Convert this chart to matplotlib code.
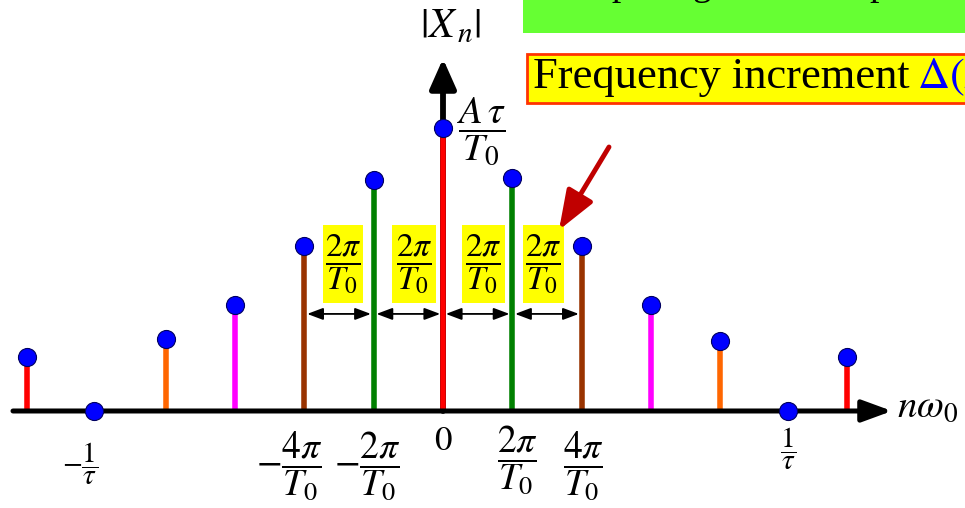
import matplotlib
matplotlib.use('Agg')
import matplotlib.pyplot as plt
from matplotlib.patches import Rectangle

plt.rcParams['mathtext.fontset'] = 'stix'
plt.rcParams['font.family'] = ['Liberation Serif', 'DejaVu Serif']

# line spectrum: harmonic positions (in units of w0) and magnitudes (peak = A*tau/T0)
positions = [-6, -5.03, -4, -3, -2, -1, 0, 1, 2, 3, 4, 4.98, 5.83]
magnitudes = [0.19, 0.0, 0.254, 0.375, 0.583, 0.816, 1.0, 0.823, 0.583, 0.375, 0.247, 0.0, 0.19]
stem_colors = ['#FF0000', '#FF0000', '#FF6600', '#FF00FF', '#993300', '#008000', '#FF0000',
               '#008000', '#993300', '#FF00FF', '#FF6600', '#FF0000', '#FF0000']

# spacing marks between neighbouring lines around the origin
spacing_idx = [4, 5, 6, 7, 8]
spacing_level = 0.343

fig = plt.figure(figsize=(9.65, 5.08), dpi=100)
ax = fig.add_axes([0, 0, 1, 1])
ax.set_xlim(-6.3925, 7.5325)
ax.set_ylim(-0.3428, 1.4523)
ax.axis('off')

# axes with arrows
ax.annotate('', xy=(0, 1.245), xytext=(0, 0),
            arrowprops=dict(arrowstyle='-|>,head_length=0.9,head_width=0.4', color='black',
                            lw=4.2, mutation_scale=20, shrinkA=0, shrinkB=0), zorder=1)
ax.vlines(positions, 0, magnitudes, colors=stem_colors, lw=4, zorder=2)
ax.annotate('', xy=(6.479, 0), xytext=(-6.205, 0),
            arrowprops=dict(arrowstyle='-|>,head_length=0.9,head_width=0.33', color='black',
                            lw=3.6, mutation_scale=20, shrinkA=0, shrinkB=0), zorder=3)
ax.plot(positions, magnitudes, 'o', ms=13, mfc='#0000FF', mec='#000060', mew=0.8, zorder=4)

for a, b in zip(spacing_idx[:-1], spacing_idx[1:]):
    ax.annotate('', xy=(positions[b], spacing_level), xytext=(positions[a], spacing_level),
                arrowprops=dict(arrowstyle='<|-|>,head_length=0.8,head_width=0.3', color='black',
                                lw=1.3, mutation_scale=12, shrinkA=2, shrinkB=2))

# overlay in pixel units for labels and banners
ov = fig.add_axes([0, 0, 1, 1])
ov.set_xlim(0, 965)
ov.set_ylim(508, 0)
ov.axis('off')
ov.patch.set_alpha(0)

ov.text(451, 27, r'$|X_{\,n}|$', fontsize=30, ha='center', va='center')
ov.text(481, 131, r'$\dfrac{A\,\tau}{T_0}$', fontsize=28, ha='center', va='center')

ov.text(443, 441, r'$0$', fontsize=25, ha='center', va='center')
ov.text(289, 466, r'$-\dfrac{4\pi}{T_0}$', fontsize=27, ha='center', va='center')
ov.text(367, 466, r'$-\dfrac{2\pi}{T_0}$', fontsize=27, ha='center', va='center')
ov.text(517, 460, r'$\dfrac{2\pi}{T_0}$', fontsize=27, ha='center', va='center')
ov.text(583, 466, r'$\dfrac{4\pi}{T_0}$', fontsize=27, ha='center', va='center')
ov.text(80, 464, r'$-\dfrac{1}{\tau}$', fontsize=21, ha='center', va='center')
ov.text(788, 449, r'$\dfrac{1}{\tau}$', fontsize=21, ha='center', va='center')
ov.text(897, 417, r'$n\omega_0$', fontsize=28, ha='left', va='baseline')

# yellow 2pi/T0 tags between the lines
for x0, w in [(323, 40), (392, 44), (462, 43), (523, 41)]:
    ov.add_patch(Rectangle((x0, 225), w, 78, fc='#FFFF00', ec='none'))
    ov.text(x0 + w / 2, 264, r'$\dfrac{2\pi}{T_0}$', fontsize=24, ha='center', va='center')

# banners at the top right
ov.add_patch(Rectangle((523, -10), 460, 43, fc='#66FF33', ec='none', clip_on=False))
ov.text(591, -5, 'Spacing between spectral lines', fontsize=27, ha='left', va='baseline')
ov.add_patch(Rectangle((527, 54), 460, 49, fc='#FFFF00', ec='#FF3300', lw=2, clip_on=False))
ov.text(533, 88, 'Frequency increment', fontsize=32, ha='left', va='baseline')
ov.text(917, 88, r'$\Delta(n\omega_0)$', fontsize=32, ha='left', va='baseline', color='#0000FF')

ov.annotate('', xy=(559, 230), xytext=(609, 147),
            arrowprops=dict(arrowstyle='-|>,head_length=1.2,head_width=0.45', color='#C00000',
                            lw=3.5, mutation_scale=20, shrinkA=0, shrinkB=0))

fig.savefig('out.png', dpi=100)
